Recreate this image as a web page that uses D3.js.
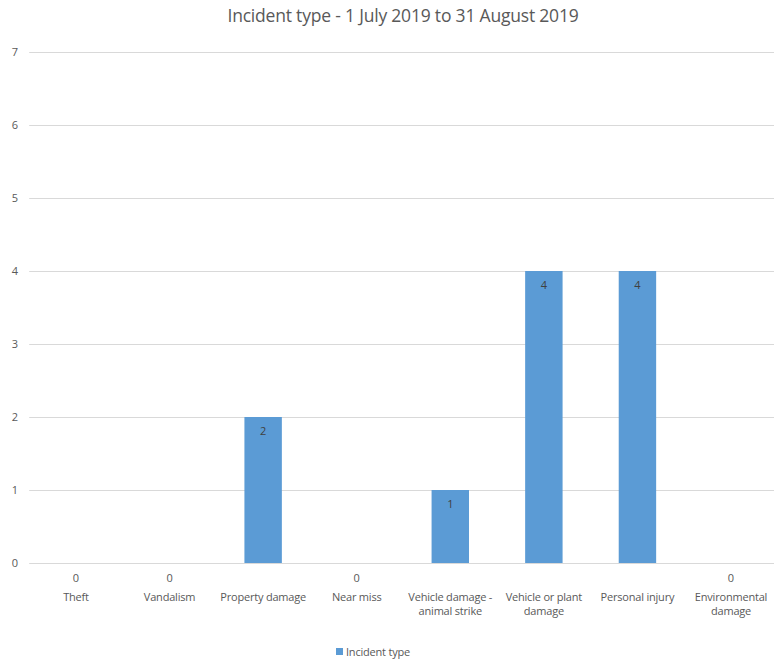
<!DOCTYPE html>
<html>
<head>
<meta charset="utf-8">
<script src="https://cdn.jsdelivr.net/npm/d3@7"></script>
<style>
  html, body { margin: 0; padding: 0; background: #fff; }
  svg { display: block; font-family: "Open Sans", "Liberation Sans", sans-serif; }
</style>
</head>
<body>
<svg id="chart" width="774" height="660"></svg>
<script>
// Incident counts per category, 1 July 2019 - 31 August 2019
const categories = [
  ["Theft"],
  ["Vandalism"],
  ["Property damage"],
  ["Near miss"],
  ["Vehicle damage -", "animal strike"],
  ["Vehicle or plant", "damage"],
  ["Personal injury"],
  ["Environmental", "damage"]
];
const counts = [0, 0, 2, 0, 1, 4, 4, 0];
const yTicks = [0, 1, 2, 3, 4, 5, 6, 7];
const seriesName = "Incident type";
const chartTitle = "Incident type - 1 July 2019 to 31 August 2019";

const svg = d3.select("#chart");
const textColor = "#595959";
const barColor = "#5B9BD5";

const plot = { left: 29.2, right: 777.8, top: 52, bottom: 563 };

const keys = categories.map((c, i) => i);
const x = d3.scaleBand().domain(keys).range([plot.left, plot.right]).paddingInner(0.6).paddingOuter(0.3);
const y = d3.scaleLinear().domain([0, 7]).range([plot.bottom, plot.top]);

// Title
svg.append("text")
  .attr("x", 403).attr("y", 22)
  .attr("text-anchor", "middle")
  .attr("fill", textColor)
  .style("font-size", "17.5px")
  .style("letter-spacing", "-0.2px")
  .text(chartTitle);

// Gridlines
svg.append("g").selectAll("line")
  .data(yTicks)
  .join("line")
  .attr("x1", plot.left).attr("x2", plot.right)
  .attr("y1", d => y(d) + 0.5).attr("y2", d => y(d) + 0.5)
  .attr("stroke", "#d9d9d9").attr("stroke-width", 1);

// Y axis labels
const yAxis = d3.axisLeft(y).tickValues(yTicks).tickFormat(d3.format("d")).tickSize(0).tickPadding(0);
const gy = svg.append("g").attr("transform", `translate(18,0)`).call(yAxis);
gy.select(".domain").remove();
gy.selectAll("text")
  .attr("fill", textColor)
  .style("font-size", "11px")
  .style("font-family", "'Open Sans', sans-serif");

// Bars
svg.append("g").selectAll("rect")
  .data(counts)
  .join("rect")
  .attr("x", (d, i) => x(i))
  .attr("y", d => y(d))
  .attr("width", x.bandwidth())
  .attr("height", d => y(0) - y(d))
  .attr("fill", barColor);

// Value labels: inside the top of non-zero bars, just under the axis for zero bars
svg.append("g").selectAll("text")
  .data(counts)
  .join("text")
  .attr("x", (d, i) => x(i) + x.bandwidth() / 2)
  .attr("y", d => d > 0 ? y(d) + 18 : y(0) + 19)
  .attr("text-anchor", "middle")
  .attr("fill", d => d > 0 ? "#404040" : textColor)
  .style("font-size", "11px")
  .text(d => d);

// Category labels
const xLabels = svg.append("g").selectAll("text")
  .data(categories)
  .join("text")
  .attr("x", (d, i) => x(i) + x.bandwidth() / 2)
  .attr("y", 601)
  .attr("text-anchor", "middle")
  .attr("fill", textColor)
  .style("font-size", "11px")
  .style("letter-spacing", "-0.2px");
xLabels.selectAll("tspan")
  .data(d => d)
  .join("tspan")
  .attr("x", function () { return d3.select(this.parentNode).attr("x"); })
  .attr("dy", (d, j) => j === 0 ? 0 : 14)
  .text(d => d);

// Legend
const legend = svg.append("g").attr("transform", "translate(336,648)");
legend.append("rect").attr("x", 0).attr("y", 0).attr("width", 7).attr("height", 7).attr("fill", barColor);
legend.append("text")
  .attr("x", 10).attr("y", 8)
  .attr("fill", textColor)
  .style("font-size", "11px")
  .style("letter-spacing", "-0.2px")
  .text(seriesName);
</script>
</body>
</html>
